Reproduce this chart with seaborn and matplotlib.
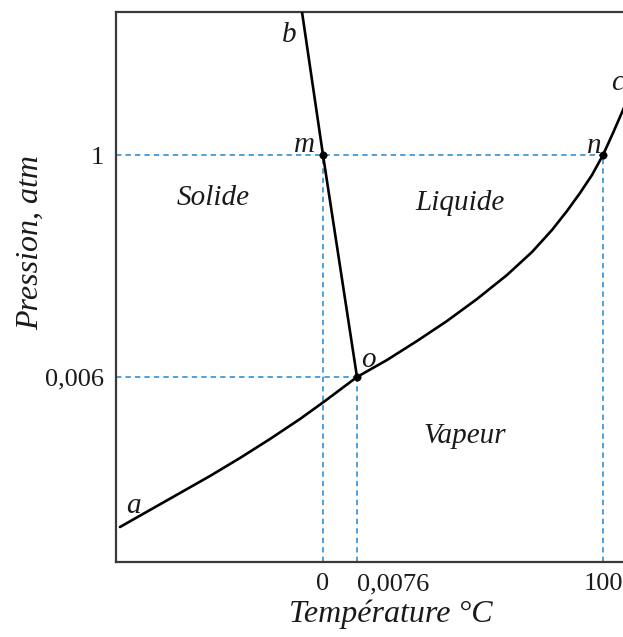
import matplotlib
matplotlib.use("Agg")
import matplotlib.pyplot as plt
import seaborn as sns
import pandas as pd

# ---- data (schematic coordinates) ----
sublimation_x = [4, 34, 64, 94, 124, 154, 184, 209, 241]
sublimation_y = [35, 52, 69, 86, 104, 123, 143, 161, 185]

vaporisation_x = [241, 271, 301, 331, 361, 391, 416, 436, 451, 464, 476, 487, 497, 507, 514]
vaporisation_y = [185, 202, 221, 241, 263, 287, 310, 332, 351, 369, 387, 407, 429, 452, 469]

fusion_x = [186, 207, 241]
fusion_y = [550, 407, 185]

point_names = ["m", "n", "o"]
point_x = [207, 487, 241]
point_y = [407, 407, 185]

temp_tick_pos = [207, 241, 487]
temp_tick_labels = ["0", "0,0076", "100"]
pres_tick_pos = [185, 407]
pres_tick_labels = ["0,006", "1"]

region_names = ["Solide", "Liquide", "Vapeur"]
region_x = [97, 344, 349]
region_y = [357, 352, 119]

curve_letters = ["a", "b", "c", "m", "n", "o"]
letter_x = [17, 173, 502, 188, 478, 252]
letter_y = [49, 520, 472, 410, 409, 195]

# ---- figure ----
sns.set_theme(style="white")
plt.rcParams["font.family"] = ["Liberation Serif", "DejaVu Serif"]

W, H = 623, 637
fig = plt.figure(figsize=(W / 100, H / 100), dpi=100)
ax = fig.add_axes([116 / W, (H - 562) / H, 520 / W, 550 / H])
ax.set_xlim(0, 520)
ax.set_ylim(0, 550)

guide_color = "#1f86d0"
# horizontal guides
for yv, xe in [(407, 487), (185, 241)]:
    ax.plot([0, xe], [yv, yv], color=guide_color, lw=1.1, dashes=(3.5, 2.7), zorder=1)
# vertical guides
for xv, ye in [(207, 407), (241, 185), (487, 407)]:
    ax.plot([xv, xv], [0, ye], color=guide_color, lw=1.1, dashes=(3.5, 2.7), zorder=1)

curves = [
    ("sub", sublimation_x, sublimation_y),
    ("vap", vaporisation_x, vaporisation_y),
    ("fus", fusion_x, fusion_y),
]
for name, xs, ys in curves:
    df = pd.DataFrame({"x": xs, "y": ys})
    sns.lineplot(data=df, x="x", y="y", sort=False, estimator=None,
                 color="black", lw=1.9, ax=ax, zorder=3)

pts = pd.DataFrame({"x": point_x, "y": point_y, "name": point_names})
sns.scatterplot(data=pts, x="x", y="y", color="black", s=28, ax=ax,
                edgecolor="black", zorder=4, legend=False)

for name, xx, yy in zip(region_names, region_x, region_y):
    ax.text(xx, yy, name, fontsize=21, style="italic", ha="center",
            va="baseline", color="#1a1a1a")

for name, xx, yy in zip(curve_letters, letter_x, letter_y):
    ax.text(xx, yy, name, fontsize=21, style="italic", ha="center",
            va="baseline", color="#1a1a1a", clip_on=False)

ax.set_xticks(temp_tick_pos)
ax.set_xticklabels(temp_tick_labels)
ax.set_yticks(pres_tick_pos)
ax.set_yticklabels(pres_tick_labels)
ax.tick_params(axis="both", length=0, labelsize=19, colors="#1a1a1a")
ax.tick_params(axis="x", pad=8)
ax.tick_params(axis="y", pad=9)
ax.get_xticklabels()[1].set_ha("left")

ax.set_xlabel("Température °C", fontsize=23, style="italic", color="#1a1a1a", va="center")
ax.xaxis.set_label_coords(0.529, -0.095)
ax.set_ylabel("Pression, atm", fontsize=23, style="italic", color="#1a1a1a",
              va="center", ha="center")
ax.yaxis.set_label_coords(-0.165, 0.58)

for side in ["left", "top", "bottom"]:
    ax.spines[side].set_color("#3a3a3a")
    ax.spines[side].set_linewidth(1.6)
ax.spines["right"].set_visible(False)

fig.savefig("out.png", dpi=100)
